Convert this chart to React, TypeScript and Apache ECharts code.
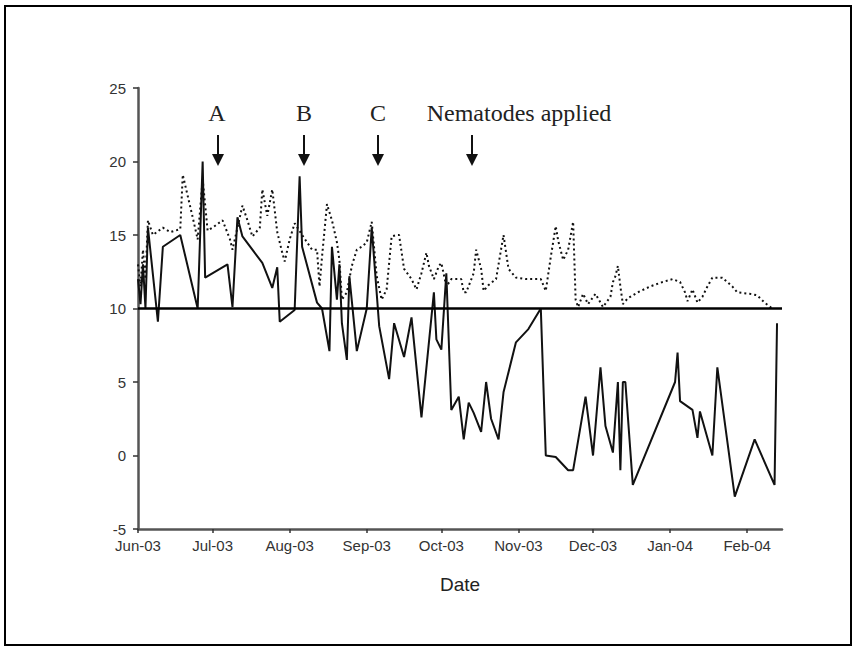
import React, { useEffect, useRef } from "react";
import * as echarts from "echarts";

// Days since 1 June 2003
const MONTH_TICK_DAYS = [0, 30, 61, 92, 122, 153, 183, 214, 245];
const MONTH_LABELS = ["Jun-03", "Jul-03", "Aug-03", "Sep-03", "Oct-03", "Nov-03", "Dec-03", "Jan-04", "Feb-04"];
const Y_TICKS = [-5, 0, 5, 10, 15, 20, 25];

const SOLID_DAYS = [0, 1, 2, 3, 4, 8, 10, 17, 24, 26, 27, 36, 38, 40, 42, 50, 54, 56, 57, 63, 65, 66, 72, 74, 77, 78, 80, 81, 82, 84, 85, 88, 92, 94, 97, 101, 103, 107, 110, 114, 119, 120, 122, 124, 126, 129, 131, 133, 135, 138, 140, 142, 145, 147, 152, 157, 162, 164, 168, 173, 175, 180, 183, 186, 188, 191, 193, 194, 195, 196, 199, 216, 217, 218, 223, 225, 226, 231, 233, 240, 248, 256, 257];
const SOLID_VALUES = [12, 10.3, 13, 10, 15.5, 9.1, 14.2, 15, 10, 20, 12.1, 13, 10.1, 16.2, 14.9, 13.1, 11.4, 12.8, 9.1, 9.9, 19, 14.2, 10.4, 10, 7.1, 14.2, 10.6, 13, 9, 6.5, 12.2, 7.1, 10, 15.5, 8.8, 5.2, 9, 6.7, 9.4, 2.6, 11.1, 7.9, 7.2, 12.4, 3.1, 4, 1.1, 3.6, 2.9, 1.6, 5, 2.5, 1.1, 4.3, 7.7, 8.6, 10, 0, -0.1, -1, -1, 4, 0, 6, 2, 0.2, 5, -1, 5, 5, -2, 5, 7, 3.7, 3.1, 1.2, 3, 0, 6, -2.8, 1.1, -2, 9];

const DOTTED_DAYS = [0, 1, 2, 3, 4, 6, 10, 13, 17, 18, 22, 24, 26, 28, 30, 34, 37, 38, 42, 44, 46, 49, 50, 52, 54, 56, 58, 59, 61, 63, 66, 70, 72, 73, 74, 76, 78, 80, 81, 82, 84, 86, 88, 90, 92, 94, 96, 98, 100, 102, 104, 105, 107, 110, 112, 114, 116, 117, 119, 121, 122, 124, 126, 130, 131, 132, 135, 136, 138, 139, 141, 144, 147, 149, 152, 156, 162, 164, 166, 168, 169, 171, 173, 175, 176, 177, 179, 181, 184, 187, 190, 191, 192, 193, 194, 195, 197, 201, 206, 211, 215, 218, 220, 221, 223, 225, 227, 229, 231, 235, 239, 241, 246, 249, 252, 255];
const DOTTED_VALUES = [13, 11.5, 14, 12, 16, 15, 15.5, 15.2, 15.4, 19.1, 16.2, 14.7, 18.8, 15.3, 15.5, 16, 14.7, 14, 17, 16, 14.9, 15.5, 18.1, 16.3, 18.1, 15.2, 13.8, 13.2, 14.7, 15.8, 15, 14, 14, 11.5, 13.5, 17.1, 16, 14.5, 13.3, 10.6, 11.1, 12.9, 14, 14.2, 14.5, 15.9, 12.2, 10.6, 11.3, 14.9, 15, 15, 12.7, 12, 11.3, 12.4, 13.8, 12.9, 12, 12.9, 13.1, 11.5, 12, 12, 11.1, 11.1, 12.4, 14, 12.7, 11.2, 11.6, 12, 15, 12.7, 12.1, 12, 12, 11.2, 13.5, 15.6, 14.6, 13.3, 14, 15.9, 10.6, 10.1, 11, 10.3, 11, 10.1, 10.8, 11.8, 12.2, 12.9, 11.5, 10.3, 10.7, 11.1, 11.5, 11.8, 12, 11.8, 11.1, 10.5, 11.3, 10.4, 10.8, 11.5, 12.1, 12.1, 11.5, 11.1, 11, 10.9, 10.4, 10];

const THRESHOLD = 10;

const ANNOTATIONS = [
  { label: "A", textX: 217, arrowX: 218 },
  { label: "B", textX: 304, arrowX: 304 },
  { label: "C", textX: 378, arrowX: 378 },
  { label: "Nematodes applied", textX: 519, arrowX: 472 },
];

export default function App() {
  const ref = useRef<HTMLDivElement>(null);
  useEffect(() => {
    if (!ref.current) return;
    const chart = echarts.init(ref.current, null, { renderer: "svg" });
    const solid = SOLID_DAYS.map((d, i) => [d, SOLID_VALUES[i]]);
    const dotted = DOTTED_DAYS.map((d, i) => [d, DOTTED_VALUES[i]]);

    const graphics: any[] = [
      {
        type: "rect",
        shape: { x: 5, y: 6, width: 846, height: 639 },
        style: { fill: "none", stroke: "#000", lineWidth: 2 },
        silent: true,
      },
    ];
    ANNOTATIONS.forEach((a) => {
      graphics.push({
        type: "text",
        x: a.textX,
        y: 113,
        style: {
          text: a.label,
          font: "24px 'Liberation Serif', serif",
          fill: "#222",
          textAlign: "center",
          textVerticalAlign: "middle",
        },
      });
      graphics.push({
        type: "line",
        shape: { x1: a.arrowX, y1: 135, x2: a.arrowX, y2: 156 },
        style: { stroke: "#111", lineWidth: 2 },
      });
      graphics.push({
        type: "polygon",
        shape: { points: [[a.arrowX - 6, 154], [a.arrowX + 6, 154], [a.arrowX, 166]] },
        style: { fill: "#111" },
      });
    });

    chart.setOption({
      animation: false,
      backgroundColor: "#fff",
      grid: { left: 138, right: 74, top: 88, bottom: 120, containLabel: false },
      xAxis: {
        type: "value",
        min: 0,
        max: 259,
        name: "Date",
        nameLocation: "middle",
        nameGap: 46,
        nameTextStyle: { fontFamily: "Liberation Sans, Arial, sans-serif", fontSize: 19, color: "#222" },
        axisLine: { show: true, onZero: false, lineStyle: { color: "#555", width: 2.5 } },
        axisTick: { show: true, length: 4, lineStyle: { color: "#333", width: 1.5 }, customValues: MONTH_TICK_DAYS },
        axisLabel: {
          customValues: MONTH_TICK_DAYS,
          formatter: (v: number) => {
            const i = MONTH_TICK_DAYS.indexOf(Math.round(v));
            return i >= 0 ? MONTH_LABELS[i] : "";
          },
          fontFamily: "Liberation Sans, Arial, sans-serif",
          fontSize: 15,
          color: "#333",
          margin: 9,
        },
        splitLine: { show: false },
      },
      yAxis: {
        type: "value",
        min: -5,
        max: 25,
        interval: 5,
        axisLine: { show: true, onZero: false, lineStyle: { color: "#555", width: 2.5 } },
        axisTick: { show: true, length: 5, lineStyle: { color: "#333", width: 1.5 } },
        axisLabel: {
          formatter: (v: number) => (Y_TICKS.includes(v) ? String(v) : ""),
          fontFamily: "Liberation Sans, Arial, sans-serif",
          fontSize: 15,
          color: "#333",
          margin: 12,
        },
        splitLine: { show: false },
      },
      series: [
        {
          type: "line",
          data: dotted,
          showSymbol: false,
          symbol: "none",
          lineStyle: { color: "#111", width: 2, type: [2, 3] },
          z: 2,
        },
        {
          type: "line",
          data: solid,
          showSymbol: false,
          symbol: "none",
          lineStyle: { color: "#111", width: 2 },
          z: 3,
          markLine: {
            silent: true,
            symbol: "none",
            label: { show: false },
            lineStyle: { color: "#000", width: 2.5, type: "solid" },
            data: [{ yAxis: THRESHOLD }],
          },
        },
      ],
      graphic: graphics,
    });
    return () => chart.dispose();
  }, []);
  return <div ref={ref} style={{ width: 856, height: 649, position: "absolute", left: 0, top: 0 }} />;
}
